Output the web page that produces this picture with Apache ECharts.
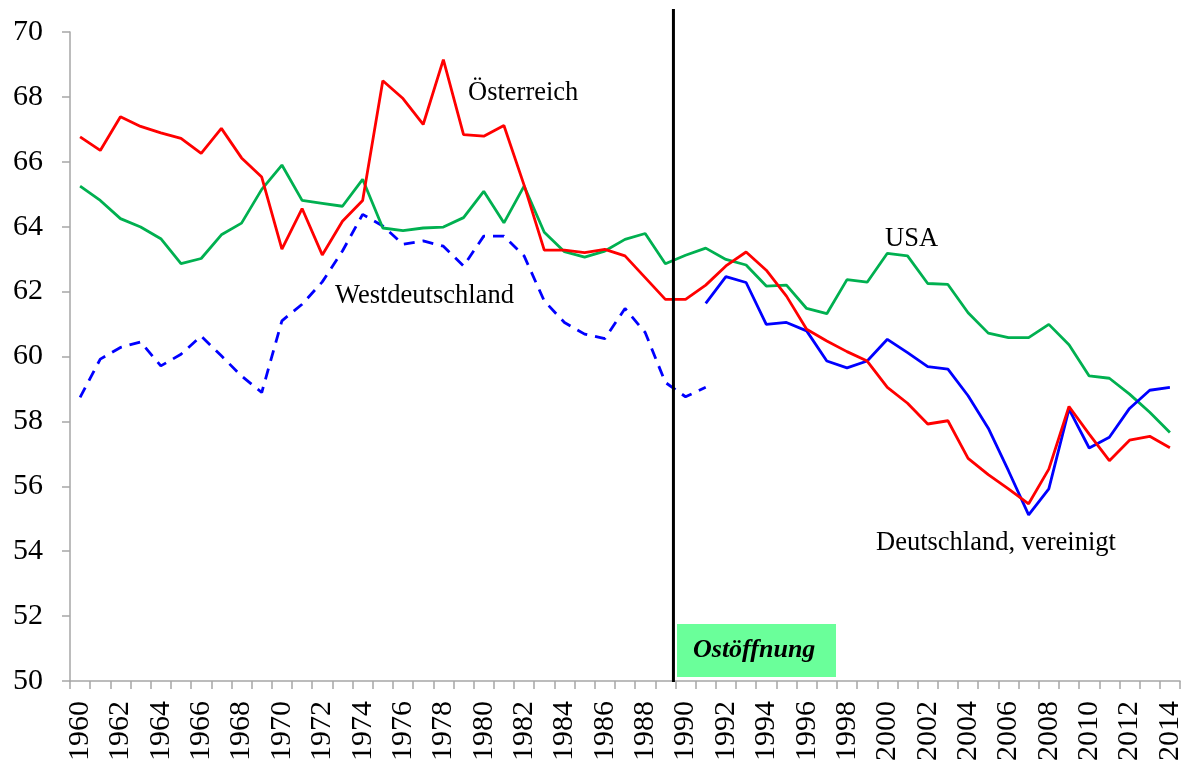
<!DOCTYPE html>
<html>
<head>
<meta charset="utf-8">
<script src="https://cdn.jsdelivr.net/npm/echarts@6/dist/echarts.min.js"></script>
<style>
html,body{margin:0;padding:0;background:#fff;}
#chart{width:1188px;height:764px;}
</style>
</head>
<body>
<div id="chart"></div>
<script>
const firstYear = 1960, lastYear = 2014;
const years = [];
for (let y = firstYear; y <= lastYear; y++) years.push(String(y));

// Österreich 1960-2014
const oesterreich = [66.77,66.35,67.39,67.09,66.89,66.72,66.26,67.03,66.12,65.53,
  63.31,64.56,63.13,64.17,64.81,68.50,67.95,67.15,69.15,66.84,
  66.79,67.12,65.28,63.28,63.28,63.20,63.30,63.10,62.43,61.76,
  61.76,62.20,62.79,63.22,62.66,61.86,60.84,60.48,60.15,59.86,
  59.05,58.56,57.92,58.02,56.86,56.36,55.92,55.46,56.53,58.46,
  57.61,56.79,57.42,57.54,57.19];
// USA 1960-2014
const usa = [65.25,64.81,64.25,63.99,63.63,62.86,63.02,63.75,64.11,65.15,
  65.90,64.81,64.72,64.63,65.46,63.96,63.88,63.96,63.99,64.28,
  65.09,64.12,65.25,63.83,63.23,63.06,63.25,63.61,63.79,62.86,
  63.12,63.34,62.99,62.82,62.17,62.20,61.48,61.32,62.37,62.29,
  63.18,63.10,62.25,62.22,61.35,60.72,60.58,60.58,60.99,60.36,
  59.40,59.33,58.84,58.28,57.66];
// Westdeutschland 1960-1991
const westdeutschland = [58.74,59.92,60.28,60.45,59.71,60.07,60.63,60.02,59.40,58.89,
  61.10,61.61,62.30,63.25,64.38,64.02,63.46,63.56,63.40,62.79,
  63.71,63.71,63.10,61.71,61.05,60.69,60.55,61.48,60.74,59.20,
  58.76,59.05];
// Deutschland, vereinigt 1991-2014
const deutschlandStart = 1991;
const deutschland = [61.64,62.46,62.28,60.99,61.05,60.79,59.86,59.65,59.86,60.53,
  60.12,59.69,59.61,58.79,57.79,56.48,55.12,55.92,58.38,57.18,
  57.51,58.40,58.96,59.05];
const yTicks = {min: 50, max: 70, interval: 2};
const ostoeffnungPos = 1989.4;

const westFull = years.map((y, i) => i < westdeutschland.length ? westdeutschland[i] : null);
const dOffset = deutschlandStart - firstYear;
const deutFull = years.map((y, i) => (i >= dOffset && i - dOffset < deutschland.length) ? deutschland[i - dOffset] : null);

const FONT = '"Liberation Serif", "Times New Roman", serif';
const chart = echarts.init(document.getElementById('chart'), null, {renderer: 'canvas'});

const lineBase = {type: 'line', symbol: 'none', smooth: false, silent: true, connectNulls: false, z: 3};

chart.setOption({
  backgroundColor: '#ffffff',
  animation: false,
  grid: [
    {left: 70, right: 8, top: 32, bottom: 82},
    {left: 70, right: 8, top: 9, bottom: 82}
  ],
  xAxis: [{
    type: 'category', gridIndex: 0, data: years, boundaryGap: true,
    axisLine: {lineStyle: {color: '#a6a6a6', width: 1.5}},
    axisTick: {show: true, interval: 0, length: 8, lineStyle: {color: '#a6a6a6', width: 1.5}},
    axisLabel: {interval: 1, rotate: 90, margin: 20, color: '#000', fontSize: 30, fontFamily: FONT},
    splitLine: {show: false}
  }, {
    type: 'value', gridIndex: 1, min: firstYear - 0.5, max: lastYear + 0.5, show: false
  }],
  yAxis: [{
    type: 'value', gridIndex: 0, min: yTicks.min, max: yTicks.max, interval: yTicks.interval,
    axisLine: {show: true, lineStyle: {color: '#a6a6a6', width: 1.5}},
    axisTick: {show: true, length: 8, lineStyle: {color: '#a6a6a6', width: 1.5}},
    axisLabel: {margin: 27, color: '#000', fontSize: 30, fontFamily: FONT},
    splitLine: {show: false}
  }, {
    type: 'value', gridIndex: 1, min: 0, max: 1, show: false
  }],
  series: [
    Object.assign({}, lineBase, {name: 'Westdeutschland', data: westFull,
      lineStyle: {color: '#0000ff', width: 2.8, type: [11, 8]}}),
    Object.assign({}, lineBase, {name: 'USA', data: usa,
      lineStyle: {color: '#00b050', width: 2.8}}),
    Object.assign({}, lineBase, {name: 'Deutschland, vereinigt', data: deutFull,
      lineStyle: {color: '#0000ff', width: 2.8}}),
    Object.assign({}, lineBase, {name: 'Österreich', data: oesterreich,
      lineStyle: {color: '#ff0000', width: 2.8}}),
    {type: 'line', xAxisIndex: 1, yAxisIndex: 1, symbol: 'none', silent: true, z: 5,
      data: [[ostoeffnungPos, 0], [ostoeffnungPos, 1]],
      lineStyle: {color: '#000', width: 3}}
  ],
  graphic: [
    {type: 'rect', shape: {x: 677, y: 624, width: 159, height: 53}, style: {fill: '#6aff9a'}, z: 10},
    {type: 'text', x: 693, y: 650, z: 11, style: {text: 'Ostöffnung', fill: '#000', font: 'italic bold 26px ' + FONT, verticalAlign: 'middle'}},
    {type: 'text', x: 468, y: 93, z: 11, style: {text: 'Österreich', fill: '#000', font: '26.5px ' + FONT, verticalAlign: 'middle'}},
    {type: 'text', x: 335, y: 296, z: 11, style: {text: 'Westdeutschland', fill: '#000', font: '26.5px ' + FONT, verticalAlign: 'middle'}},
    {type: 'text', x: 885, y: 239, z: 11, style: {text: 'USA', fill: '#000', font: '26.5px ' + FONT, verticalAlign: 'middle'}},
    {type: 'text', x: 876, y: 543, z: 11, style: {text: 'Deutschland, vereinigt', fill: '#000', font: '26.5px ' + FONT, verticalAlign: 'middle'}}
  ]
});
</script>
</body>
</html>
